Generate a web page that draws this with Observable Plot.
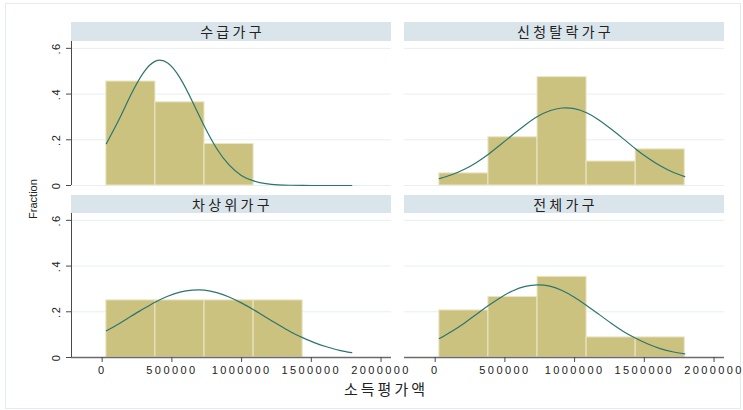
<!DOCTYPE html>
<html>
<head>
<meta charset="utf-8">
<script src="https://cdn.jsdelivr.net/npm/d3@7"></script>
<script src="https://cdn.jsdelivr.net/npm/@observablehq/plot@0.6"></script>
<style>
  body { margin: 0; background: #ffffff; }
  #chart { position: relative; width: 743px; height: 410px; overflow: hidden; background: #ffffff; font-family: "Liberation Sans", Arial, sans-serif; }
  .outer { position: absolute; left: 5px; top: 3px; width: 736px; height: 406px; border: 1px solid #e3ebee; box-sizing: border-box; }
  .strip { position: absolute; background: #d9e5eb; font-family: "Noto Sans CJK KR", sans-serif; font-size: 14px; letter-spacing: 3.3px; padding-left: 3px; box-sizing: border-box; text-align: center; color: #222; }
  .panel { position: absolute; }
  .panel svg { max-width: none !important; }
  .ytitle { position: absolute; font-size: 11px; color: #222; transform: translate(-50%, -50%) rotate(-90deg); white-space: nowrap; }
  .xtitle { position: absolute; font-family: "Noto Sans CJK KR", sans-serif; font-size: 15px; letter-spacing: 3px; color: #222; transform: translate(-50%, -50%); white-space: nowrap; }
  g[aria-label="x-axis tick label"] text { letter-spacing: 2.4px; }
  g[aria-label="y-axis tick label"] text { letter-spacing: 1.5px; }
</style>
</head>
<body>
<div id="chart"><div class="outer"></div></div>
<script>
// ---- data ----
const groups = ["수급가구", "신청탈락가구", "차상위가구", "전체가구"];
const binEdges = [30000, 382000, 734000, 1086000, 1438000, 1790000];
const frac수급 = [0.455, 0.364, 0.182, 0, 0];
const frac신청탈락 = [0.053, 0.211, 0.474, 0.105, 0.158];
const frac차상위 = [0.25, 0.25, 0.25, 0.25, 0];
const frac전체 = [0.206, 0.265, 0.353, 0.088, 0.088];

// normal-density overlay at these incomes
const curveX = [30000, 118000, 206000, 294000, 382000, 470000, 558000, 646000, 734000, 822000, 910000,
                998000, 1086000, 1174000, 1262000, 1350000, 1438000, 1526000, 1614000, 1702000, 1790000];
const curve수급 = [0.183, 0.285, 0.397, 0.492, 0.544, 0.536, 0.471, 0.369, 0.258, 0.161, 0.090,
                  0.044, 0.020, 0.008, 0.003, 0.001, 0.0002, 0.0001, 0, 0, 0];
const curve신청탈락 = [0.030, 0.047, 0.070, 0.100, 0.137, 0.179, 0.223, 0.265, 0.302, 0.327, 0.339,
                    0.336, 0.318, 0.287, 0.247, 0.204, 0.160, 0.120, 0.086, 0.059, 0.039];
const curve차상위 = [0.117, 0.147, 0.180, 0.212, 0.243, 0.268, 0.286, 0.295, 0.295, 0.284, 0.265,
                   0.239, 0.209, 0.176, 0.144, 0.113, 0.087, 0.064, 0.046, 0.031, 0.021];
const curve전체 = [0.083, 0.114, 0.149, 0.188, 0.227, 0.263, 0.292, 0.311, 0.318, 0.312, 0.293,
                  0.264, 0.228, 0.189, 0.150, 0.114, 0.084, 0.059, 0.039, 0.025, 0.016];

const xTicks = [0, 500000, 1000000, 1500000, 2000000];
const yTicks = [0, 0.2, 0.4, 0.6];
const yTickLabels = ["0", ".2", ".4", ".6"];
const gridLines = [0, 0.2, 0.4, 0.6];
const xDomain = [-220000, 2075000];
const yDomain = [0, 0.63];
const yTitle = "Fraction";
const xTitle = "소득평가액";

// ---- layout ----
const chart = document.getElementById("chart");
const PW = 320, PH = 144, ML = 40, MR = 32, MT = 4;
const panels = [
  {name: groups[0], fr: frac수급, cy: curve수급, L: 71, T: 41, stripTop: 22, stripH: 19, left: true, bottom: false},
  {name: groups[1], fr: frac신청탈락, cy: curve신청탈락, L: 404, T: 41, stripTop: 22, stripH: 19, left: false, bottom: false},
  {name: groups[2], fr: frac차상위, cy: curve차상위, L: 71, T: 213, stripTop: 195, stripH: 18, left: true, bottom: true},
  {name: groups[3], fr: frac전체, cy: curve전체, L: 404, T: 213, stripTop: 195, stripH: 18, left: false, bottom: true}
];

for (const p of panels) {
  const bins = p.fr.map((f, i) => ({x1: binEdges[i], x2: binEdges[i + 1], y: f}));
  const curve = curveX.map((x, i) => ({x, y: p.cy[i]}));
  const MB = p.bottom ? 30 : 4;
  const W = ML + PW + MR, H = MT + PH + MB;
  const marks = [
    Plot.ruleY(gridLines, {stroke: "#e7eff2", strokeWidth: 1}),
    Plot.rect(bins, {filter: d => d.y > 0, x1: "x1", x2: "x2", y1: 0, y2: "y", fill: "#cbc280", stroke: "#ebe6c6", strokeWidth: 1}),
    Plot.line(curve, {x: "x", y: "y", stroke: "#2c756f", strokeWidth: 1.2, curve: "natural"})
  ];
  if (p.left) {
    marks.push(
      Plot.ruleX([xDomain[0]], {y1: yDomain[0], y2: yDomain[1], stroke: "#4a4a4a", strokeWidth: 1}),
      Plot.axisY({ticks: yTicks, tickSize: 5, tickPadding: 7, tickRotate: -90, fontSize: 11, stroke: "#4a4a4a", fill: "#222",
                  label: null, tickFormat: d => yTickLabels[yTicks.indexOf(d)]})
    );
  }
  if (p.bottom) {
    marks.push(
      Plot.ruleY([0], {stroke: "#6b6b6b", strokeWidth: 1.6}),
      Plot.axisX({ticks: xTicks, tickSize: 5, tickPadding: 4, fontSize: 11, stroke: "#4a4a4a", fill: "#222",
                  label: null, tickFormat: d => String(d)})
    );
  }
  const svg = Plot.plot({
    width: W,
    height: H,
    marginLeft: ML, marginRight: MR, marginTop: MT, marginBottom: MB,
    style: {background: "transparent", overflow: "visible", maxWidth: "none", fontFamily: "'Liberation Sans', Arial, sans-serif"},
    x: {domain: xDomain, axis: null, label: null},
    y: {domain: yDomain, axis: null, label: null},
    marks
  });
  const holder = document.createElement("div");
  holder.className = "panel";
  holder.style.left = (p.L - ML) + "px";
  holder.style.top = (p.T - MT) + "px";
  holder.style.width = W + "px";
  holder.style.height = H + "px";
  holder.appendChild(svg);
  chart.appendChild(holder);

  const strip = document.createElement("div");
  strip.className = "strip";
  strip.style.left = p.L + "px";
  strip.style.top = p.stripTop + "px";
  strip.style.width = PW + "px";
  strip.style.height = p.stripH + "px";
  strip.style.lineHeight = p.stripH + "px";
  strip.textContent = p.name;
  chart.appendChild(strip);
}

const yt = document.createElement("div");
yt.className = "ytitle";
yt.style.left = "33px";
yt.style.top = "199px";
yt.textContent = yTitle;
chart.appendChild(yt);

const xt = document.createElement("div");
xt.className = "xtitle";
xt.style.left = "386px";
xt.style.top = "388px";
xt.textContent = xTitle;
chart.appendChild(xt);
</script>
</body>
</html>
